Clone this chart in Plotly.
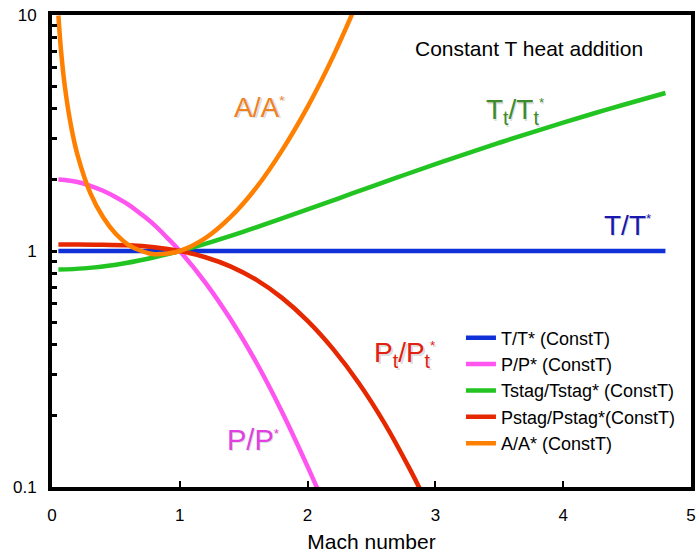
import plotly.graph_objects as go

# ---- data ----
mach_T = [0.05, 4.8]
T_ratio = [1.0, 1.0]

mach_P = [0.05, 0.1, 0.2, 0.3, 0.4, 0.5, 0.6, 0.7, 0.8, 0.9, 1.0, 1.2, 1.4, 1.6, 1.8, 2.0, 2.1]
P_ratio = [2.01, 2.00, 1.96, 1.89, 1.80, 1.69, 1.57, 1.43, 1.29, 1.14, 1.0, 0.735, 0.511, 0.336, 0.208, 0.122, 0.092]

mach_Tt = [0.05, 0.25, 0.5, 0.75, 1.0, 1.25, 1.5, 1.75, 2.0, 2.25, 2.5, 2.75, 3.0, 3.25, 3.5, 3.75, 4.0, 4.25, 4.5, 4.8]
Tt_ratio = [0.834, 0.844, 0.875, 0.927, 1.0, 1.094, 1.208, 1.344, 1.5, 1.677, 1.875, 2.094, 2.333, 2.594, 2.875, 3.177, 3.5, 3.844, 4.208, 4.673]

mach_Pt = [0.05, 0.2, 0.4, 0.6, 0.8, 1.0, 1.2, 1.4, 1.6, 1.8, 2.0, 2.2, 2.4, 2.6, 2.8, 2.9]
Pt_ratio = [1.065, 1.065, 1.062, 1.058, 1.038, 1.0, 0.941, 0.859, 0.754, 0.633, 0.506, 0.384, 0.276, 0.187, 0.119, 0.093]

mach_A = [0.05, 0.07, 0.1, 0.15, 0.2, 0.3, 0.4, 0.5, 0.6, 0.7, 0.8, 0.9, 1.0, 1.2, 1.4, 1.6, 1.8, 2.0, 2.2, 2.4]
A_ratio = [9.95, 7.12, 5.0, 3.36, 2.55, 1.76, 1.39, 1.18, 1.06, 1.00, 0.969, 0.975, 1.0, 1.134, 1.398, 1.86, 2.67, 4.08, 6.68, 11.7]

y_tickvals = [0.1, 0.2, 0.3, 0.4, 0.5, 0.6, 0.7, 0.8, 0.9, 1, 2, 3, 4, 5, 6, 7, 8, 9, 10]
y_ticktext = ["0.1", "", "", "", "", "", "", "", "", "1", "", "", "", "", "", "", "", "", "10"]
x_tickvals = [0, 1, 2, 3, 4, 5]

FONT = "Liberation Sans, Arial, sans-serif"
STAR = "<sup><span style='font-size:13px'>*</span></sup>"

fig = go.Figure()
series = [
    (mach_T, T_ratio, "T/T* (ConstT)", "#1030d8", "linear"),
    (mach_P, P_ratio, "P/P* (ConstT)", "#ff55f0", "spline"),
    (mach_Tt, Tt_ratio, "Tstag/Tstag* (ConstT)", "#22c422", "spline"),
    (mach_Pt, Pt_ratio, "Pstag/Pstag*(ConstT)", "#e62800", "spline"),
    (mach_A, A_ratio, "A/A* (ConstT)", "#ff8000", "spline"),
]
for xs, ys, name, col, shape in series:
    fig.add_trace(go.Scatter(x=xs, y=ys, mode="lines", name=name,
                             line=dict(color=col, width=4.5, shape=shape, smoothing=1.0)))

labels = [
    (1.62, 0.805, "A/A" + STAR, "#f08020", 28),
    (3.62, 0.795, "T<sub>t</sub>/T<sub>t</sub>" + STAR, "#3c8c2c", 28),
    (4.5, 0.555, "T/T" + STAR, "#1818b0", 28),
    (2.76, 0.28, "P<sub>t</sub>/P<sub>t</sub>" + STAR, "#e02010", 28),
    (1.57, 0.10, "P/P" + STAR, "#e040e0", 29),
]
annotations = []
for x, yp, txt, col, sz in labels:
    # soft drop shadow as in the reference
    annotations.append(dict(x=x, y=yp, xref="x", yref="paper", text=txt, showarrow=False,
                            xanchor="center", yanchor="middle", xshift=1.5, yshift=-1.5,
                            font=dict(family=FONT, size=sz, color="rgba(0,0,0,0.15)")))
    annotations.append(dict(x=x, y=yp, xref="x", yref="paper", text=txt, showarrow=False,
                            xanchor="center", yanchor="middle",
                            font=dict(family=FONT, size=sz, color=col)))
annotations.append(dict(x=3.73, y=0.93, xref="x", yref="paper", text="Constant T heat addition",
                        showarrow=False, xanchor="center", yanchor="middle",
                        font=dict(family=FONT, size=21, color="black")))

fig.update_layout(
    width=699, height=557,
    margin=dict(l=52, r=4, t=15, b=70),
    plot_bgcolor="white", paper_bgcolor="white",
    font=dict(family=FONT, size=17, color="black"),
    annotations=annotations,
    legend=dict(x=0.64, y=0.355, xanchor="left", yanchor="top", bgcolor="rgba(0,0,0,0)",
                font=dict(family=FONT, size=18, color="black"), tracegroupgap=0,
                itemwidth=30),
    xaxis=dict(range=[0, 5], tickvals=x_tickvals, ticks="inside", ticklen=6, tickwidth=2,
               tickcolor="black", showline=True, linewidth=4, linecolor="black", mirror=True,
               showgrid=False, zeroline=False, ticklabelstandoff=10,
               tickfont=dict(family=FONT, size=17),
               title=dict(text="Mach number", font=dict(family=FONT, size=21), standoff=11)),
    yaxis=dict(type="log", range=[-1, 1], tickvals=y_tickvals, ticktext=y_ticktext,
               ticks="inside", ticklen=5, tickwidth=3, tickcolor="black",
               showline=True, linewidth=4, linecolor="black", mirror=True,
               showgrid=False, zeroline=False, ticklabelstandoff=8,
               tickfont=dict(family=FONT, size=17)),
)

fig.write_html("out.html")
